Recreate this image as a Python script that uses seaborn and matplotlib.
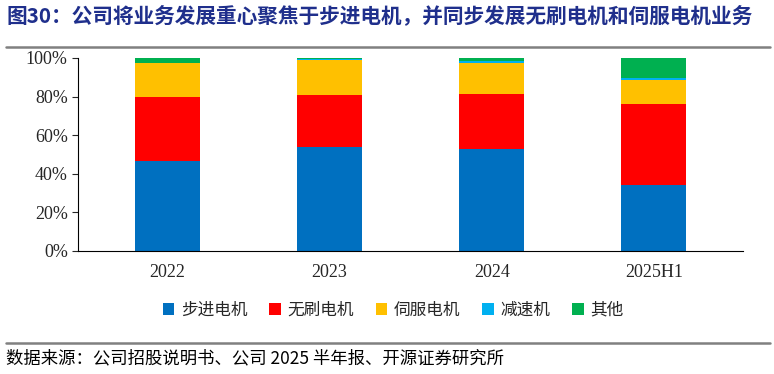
import numpy as np
import pandas as pd
import matplotlib
matplotlib.use("Agg")
import matplotlib.pyplot as plt
import seaborn as sns
from matplotlib.patches import Patch
from matplotlib.lines import Line2D

# 数据 (%)
years = ["2022", "2023", "2024", "2025H1"]
series_names = ["步进电机", "无刷电机", "伺服电机", "减速机", "其他"]
stepper = [46.6, 53.9, 52.8, 34.2]
brushless = [33.2, 26.9, 28.7, 42.0]
servo = [17.6, 18.3, 15.8, 12.4]
reducer = [0.2, 0.2, 1.0, 0.9]
other = [2.4, 0.7, 1.7, 10.5]
colors = ["#0070C0", "#FF0000", "#FFC000", "#00B0F0", "#00B050"]

title = "图30：公司将业务发展重心聚焦于步进电机，并同步发展无刷电机和伺服电机业务"
source = "数据来源：公司招股说明书、公司 2025 半年报、开源证券研究所"

sns.set_style("white")
plt.rcParams["font.family"] = ["Noto Sans CJK SC", "DejaVu Sans"]

df = pd.DataFrame({"year": years})
values = [stepper, brushless, servo, reducer, other]
cum = np.cumsum(np.array(values), axis=0)

fig = plt.figure(figsize=(7.74, 3.74), dpi=100)
ax = fig.add_axes([0.101, 0.329, 0.859, 0.516])

# 累计值从上往下画，实现堆叠效果
for i in range(len(series_names) - 1, -1, -1):
    df["v"] = cum[i]
    sns.barplot(data=df, x="year", y="v", color=colors[i], width=0.4,
                saturation=1, ax=ax, linewidth=0)

ax.set_ylim(0, 100)
ax.set_xlim(-0.55, 3.55)
ax.set_yticks(np.arange(0, 101, 20))
ax.set_yticklabels([f"{t}%" for t in range(0, 101, 20)])
ax.set_xlabel("")
ax.set_ylabel("")
for s in ["top", "right"]:
    ax.spines[s].set_visible(False)
for s in ["left", "bottom"]:
    ax.spines[s].set_color("black")
    ax.spines[s].set_linewidth(0.8)
ax.tick_params(axis="y", which="both", left=True, length=4, width=0.8, direction="out")
ax.tick_params(axis="x", bottom=False, pad=6)
for lab in ax.get_xticklabels() + ax.get_yticklabels():
    lab.set_fontfamily("Liberation Serif")
    lab.set_fontsize(13)

handles = [Patch(facecolor=c, edgecolor="none") for c in colors]
fig.legend(handles, series_names, loc="center", bbox_to_anchor=(0.508, 0.17), ncol=5,
           frameon=False, fontsize=12, handlelength=0.7, handleheight=0.7,
           handletextpad=0.4, columnspacing=1.3)

# 标题与来源
fig.text(0.008, 0.958, title, fontsize=14.9, fontweight="bold", color="#1F2F8C",
         ha="left", va="center")
fig.add_artist(Line2D([0.008, 0.995], [0.874, 0.874], color="#808080", linewidth=1.8))
fig.add_artist(Line2D([0.008, 0.995], [0.083, 0.083], color="#808080", linewidth=1.8))
fig.text(0.008, 0.042, source, fontsize=12.5, color="black", ha="left", va="center")

fig.savefig("out.png", dpi=100)
